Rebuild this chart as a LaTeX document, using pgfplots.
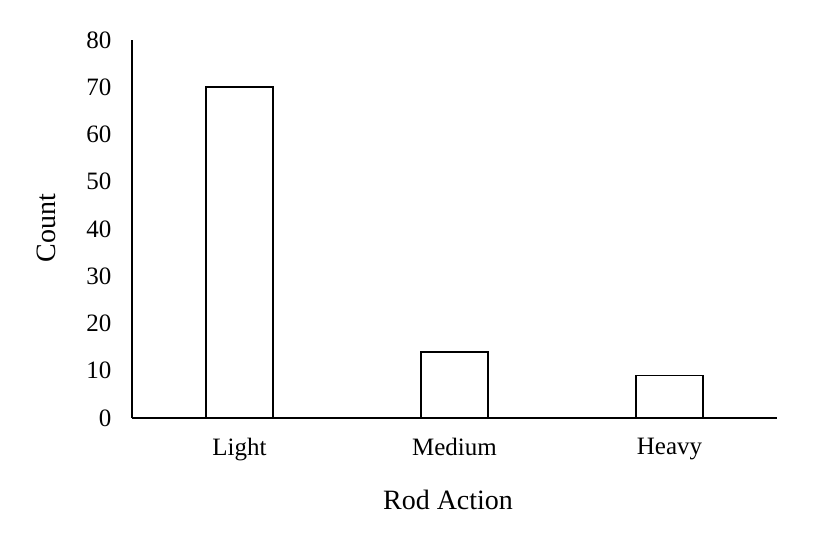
\documentclass[border=0pt]{standalone}
\usepackage{pgfplots}
\pgfplotsset{compat=1.18}
\usepackage{fontspec}
\setmainfont{Liberation Serif}
\begin{document}
\begin{tikzpicture}
\useasboundingbox (0,0) rectangle (828bp,536bp);
\begin{axis}[
  at={(132bp,118bp)}, anchor=south west,
  scale only axis, width=645bp, height=378bp,
  xmin=-0.5, xmax=2.5, ymin=0, ymax=80,
  axis x line=bottom, axis y line=left,
  axis line style={-, line width=1.6bp, black},
  xtick={0,1,2}, xticklabels={Light,Medium,Heavy},
  ytick={0,10,...,80},
  major tick length=0pt,
  /pgf/number format/assume math mode=true,
  tick label style={font=\fontsize{25bp}{30bp}\selectfont},
  yticklabel style={xshift=-17bp},
  xticklabel style={yshift=-17bp},
  label style={font=\fontsize{28bp}{34bp}\selectfont},
  xlabel={Rod Action},
  xlabel style={at={(axis description cs:0.49,-0.243)}, anchor=base},
  ylabel={Count},
  ylabel style={at={(axis description cs:-0.132,0.503)}, anchor=center, rotate=0},
  ybar, bar width=67bp,
]
\addplot[fill=white, draw=black, line width=1.6bp] coordinates {(0,70) (1,14) (2,9)};
\end{axis}
\end{tikzpicture}
\end{document}
